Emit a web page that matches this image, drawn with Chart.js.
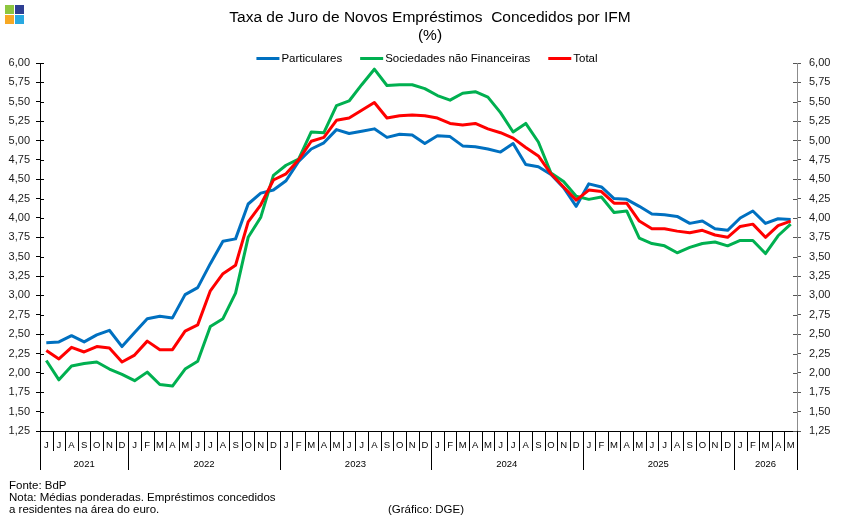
<!DOCTYPE html>
<html>
<head>
<meta charset="utf-8">
<script src="https://cdn.jsdelivr.net/npm/chart.js@4.4.1/dist/chart.umd.min.js"></script>
<style>
  html, body { margin: 0; padding: 0; background: #fff; }
  canvas { display: block; }
</style>
</head>
<body>
<canvas id="grafico" width="843" height="525"></canvas>
<script>
// Categorias (Jun 2021 - Mai 2026)
const meses = ['J','J','A','S','O','N','D',
  'J','F','M','A','M','J','J','A','S','O','N','D',
  'J','F','M','A','M','J','J','A','S','O','N','D',
  'J','F','M','A','M','J','J','A','S','O','N','D',
  'J','F','M','A','M','J','J','A','S','O','N','D',
  'J','F','M','A','M'];
const anos = ['2021','2022','2023','2024','2025','2026'];
const mesesPorAno = [7, 12, 12, 12, 12, 5];

// Séries (%)
const particulares = [2.39,2.40,2.48,2.40,2.49,2.55,2.34,
  2.52,2.70,2.73,2.71,3.01,3.10,3.41,3.70,3.73,4.18,4.32,4.36,
  4.48,4.73,4.89,4.97,5.14,5.09,5.12,5.15,5.04,5.08,5.07,4.96,
  5.06,5.05,4.93,4.92,4.89,4.85,4.96,4.69,4.66,4.56,4.39,4.15,
  4.44,4.40,4.25,4.24,4.15,4.05,4.04,4.02,3.93,3.96,3.86,3.84,
  4.00,4.09,3.93,3.99,3.98];
const sociedades = [2.16,1.91,2.09,2.12,2.14,2.05,1.98,
  1.90,2.01,1.85,1.83,2.05,2.15,2.60,2.70,3.03,3.75,4.01,4.55,
  4.68,4.76,5.11,5.10,5.45,5.51,5.72,5.92,5.71,5.72,5.72,5.67,
  5.58,5.52,5.61,5.63,5.56,5.36,5.11,5.22,4.98,4.58,4.47,4.28,
  4.24,4.27,4.07,4.09,3.74,3.67,3.64,3.55,3.62,3.67,3.69,3.64,
  3.71,3.71,3.54,3.77,3.92];
const total = [2.29,2.18,2.33,2.27,2.34,2.32,2.14,
  2.23,2.41,2.30,2.30,2.54,2.62,3.06,3.28,3.39,3.95,4.17,4.49,
  4.57,4.75,4.99,5.04,5.26,5.29,5.39,5.49,5.29,5.32,5.33,5.32,
  5.29,5.22,5.20,5.22,5.15,5.10,5.03,4.91,4.80,4.57,4.40,4.23,
  4.36,4.34,4.19,4.19,3.96,3.86,3.86,3.83,3.81,3.84,3.78,3.75,
  3.89,3.92,3.75,3.90,3.96];

const FONTE = "'Liberation Sans', Arial, sans-serif";
const cores = { part: '#0070C0', snf: '#00B050', total: '#FF0000' };

const formatar = v => v.toFixed(2).replace('.', ',');

// Textos, legenda e eixo das categorias
const extras = {
  id: 'extras',
  afterDraw(chart) {
    const ctx = chart.ctx;
    const area = chart.chartArea;
    const xs = chart.scales.x;
    const ys = chart.scales.y;
    ctx.save();

    // logotipo
    ctx.fillStyle = '#8DC63F'; ctx.fillRect(5, 5, 9, 9);
    ctx.fillStyle = '#2E3F93'; ctx.fillRect(15, 5, 9, 9);
    ctx.fillStyle = '#F7A823'; ctx.fillRect(5, 15, 9, 9);
    ctx.fillStyle = '#29A9E1'; ctx.fillRect(15, 15, 9, 9);

    // título
    ctx.fillStyle = '#000';
    ctx.textAlign = 'center';
    ctx.textBaseline = 'alphabetic';
    ctx.font = '15.5px ' + FONTE;
    ctx.fillText('Taxa de Juro de Novos Empréstimos  Concedidos por IFM', 430, 22);
    ctx.fillText('(%)', 430, 40);

    // legenda
    ctx.font = '11.5px ' + FONTE;
    ctx.textAlign = 'left';
    ctx.textBaseline = 'middle';
    const itens = chart.data.datasets.map(d => ({ t: d.label, c: d.borderColor }));
    const larg = itens.map(it => 23 + 2 + ctx.measureText(it.t).width);
    const soma = larg.reduce((a, b) => a + b, 0) + 18 * (itens.length - 1);
    let lx = 427 - soma / 2;
    itens.forEach((it, i) => {
      ctx.fillStyle = it.c;
      ctx.fillRect(lx, 57, 23, 3);
      ctx.fillStyle = '#000';
      ctx.fillText(it.t, lx + 25, 58.5);
      lx += larg[i] + 18;
    });

    // marcas interiores dos eixos y
    ys.ticks.forEach(t => {
      const y = Math.round(ys.getPixelForValue(t.value)) + 0.5;
      ctx.strokeStyle = '#000';
      ctx.lineWidth = 1;
      ctx.beginPath(); ctx.moveTo(area.left, y); ctx.lineTo(area.left + 4, y); ctx.stroke();
      ctx.strokeStyle = '#555';
      ctx.beginPath(); ctx.moveTo(area.right - 4, y); ctx.lineTo(area.right, y); ctx.stroke();
    });

    // eixo x: meses, separadores e anos
    const meio = (xs.getPixelForValue(1) - xs.getPixelForValue(0)) / 2;
    const limite = i => i < meses.length ? xs.getPixelForValue(i) - meio : xs.getPixelForValue(meses.length - 1) + meio;
    const inicioAno = [0];
    mesesPorAno.forEach(n => inicioAno.push(inicioAno[inicioAno.length - 1] + n));

    ctx.strokeStyle = '#000';
    ctx.lineWidth = 1;
    for (let i = 0; i <= meses.length; i++) {
      const x = Math.round(limite(i)) + 0.5;
      const fim = inicioAno.includes(i) ? 470 : 451;
      ctx.beginPath(); ctx.moveTo(x, area.bottom); ctx.lineTo(x, fim); ctx.stroke();
    }
    ctx.fillStyle = '#000';
    ctx.textAlign = 'center';
    ctx.font = '9.5px ' + FONTE;
    meses.forEach((m, i) => ctx.fillText(m, xs.getPixelForValue(i), 445.5));
    anos.forEach((a, k) => {
      const x = (limite(inicioAno[k]) + limite(inicioAno[k + 1])) / 2;
      ctx.fillText(a, x, 464.5);
    });

    // notas
    ctx.font = '11.5px ' + FONTE;
    ctx.textAlign = 'left';
    ctx.textBaseline = 'alphabetic';
    ctx.fillText('Fonte: BdP', 9, 489);
    ctx.fillText('Nota: Médias ponderadas. Empréstimos concedidos', 9, 501);
    ctx.fillText('a residentes na área do euro.', 9, 513);
    ctx.fillText('(Gráfico: DGE)', 388, 513);

    ctx.restore();
  }
};

const eixoY = (posicao, corBorda, corMarca, pad, largura) => ({
  position: posicao,
  min: 1.25,
  max: 6,
  afterFit: s => { s.width = largura; },
  border: { display: true, color: corBorda, width: 1 },
  grid: { drawOnChartArea: false, drawTicks: true, tickLength: 4, color: corMarca },
  ticks: {
    stepSize: 0.25,
    padding: pad,
    color: '#1a1a1a',
    font: { family: FONTE, size: 11 },
    callback: v => formatar(v)
  }
});

new Chart(document.getElementById('grafico'), {
  type: 'line',
  data: {
    labels: meses,
    datasets: [
      { label: 'Particulares', data: particulares, borderColor: cores.part, order: 3 },
      { label: 'Sociedades não Financeiras', data: sociedades, borderColor: cores.snf, order: 2 },
      { label: 'Total', data: total, borderColor: cores.total, order: 1 }
    ]
  },
  options: {
    responsive: false,
    animation: false,
    devicePixelRatio: 1,
    layout: { padding: { top: 63, left: 0, right: 0, bottom: 0 } },
    elements: {
      line: { borderWidth: 3, tension: 0, borderJoinStyle: 'round', fill: false },
      point: { radius: 0 }
    },
    plugins: {
      legend: { display: false },
      title: { display: false },
      tooltip: { enabled: false }
    },
    scales: {
      x: {
        offset: true,
        afterFit: s => { s.height = 94; },
        border: { display: true, color: '#000' },
        grid: { display: false },
        ticks: { display: false }
      },
      y: eixoY('left', '#000', '#000', 6, 40),
      y2: eixoY('right', '#8c8c8c', '#555', 8, 46)
    }
  },
  plugins: [extras]
});
</script>
</body>
</html>
